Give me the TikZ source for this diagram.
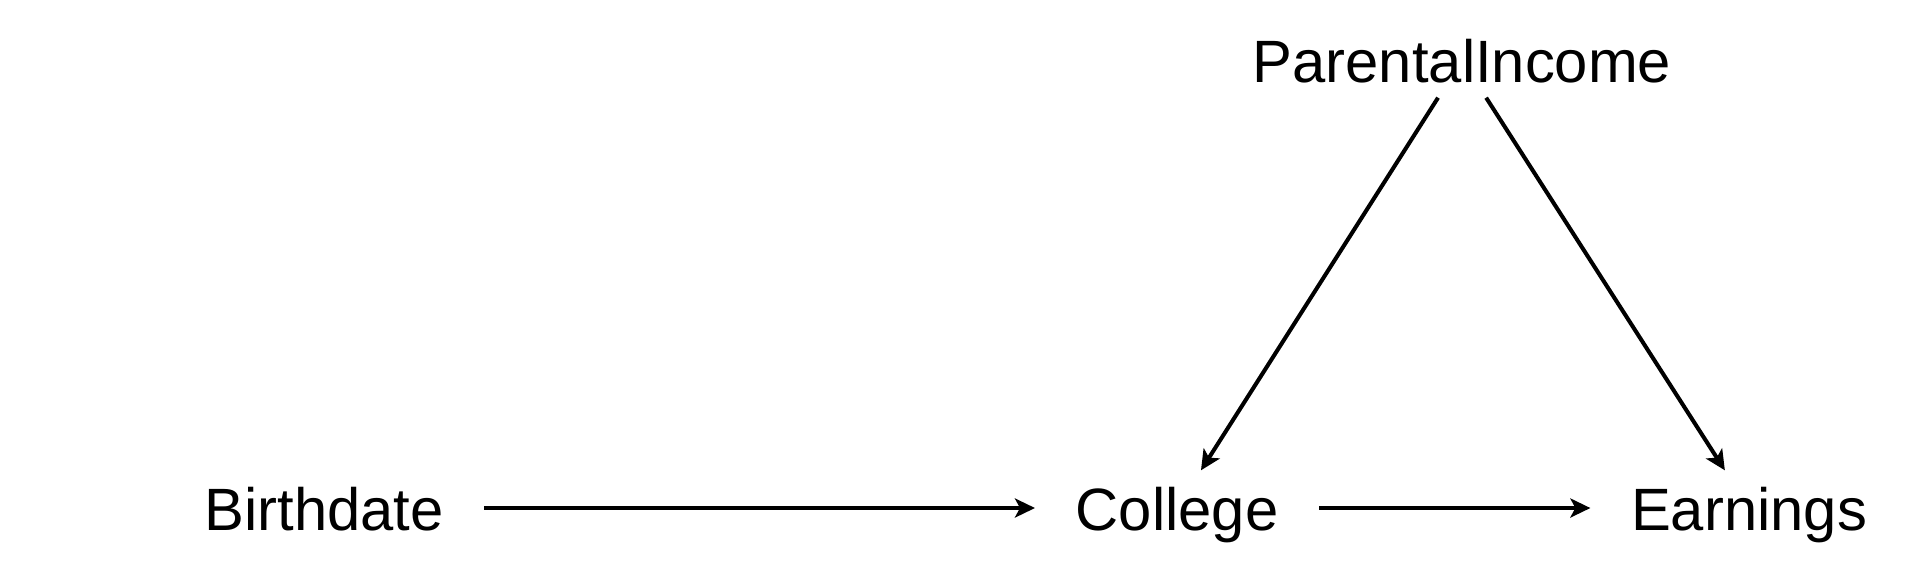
\documentclass[tikz,border=0pt]{standalone}
\usepackage{fontspec}
\setmainfont{Liberation Sans}
\usepackage{tikz}
\usetikzlibrary{
  arrows.meta,
  positioning,
}
\tikzset{
  varnode/.style={
    rectangle, draw=none, inner xsep=0.4cm, inner ysep=0.15cm,
    text height=0.44cm, text depth=0pt,
    font=\fontsize{17}{20}\selectfont, align=center,
  },
  arrowCausal/.style={
    -{Stealth[length=2mm,width=1.9mm,inset=0.5mm]}, line width=1.15pt, draw=black,
  },
}
\begin{document}
\begin{tikzpicture}

\useasboundingbox (0,0) rectangle (19.2,5.76);

\node[varnode] (income)    at (14.62,5.16) {ParentalIncome};
\node[varnode] (birthdate) at (3.24,0.68)   {Birthdate};
\node[varnode] (college)   at (11.77,0.68)  {College};
\node[varnode] (earnings)  at (17.49,0.68)  {Earnings};

\draw[arrowCausal] (birthdate) -- (college);
\draw[arrowCausal] (college) -- (earnings);
\draw[arrowCausal] (income) -- (college);
\draw[arrowCausal] (income) -- (earnings);

\end{tikzpicture}
\end{document}
